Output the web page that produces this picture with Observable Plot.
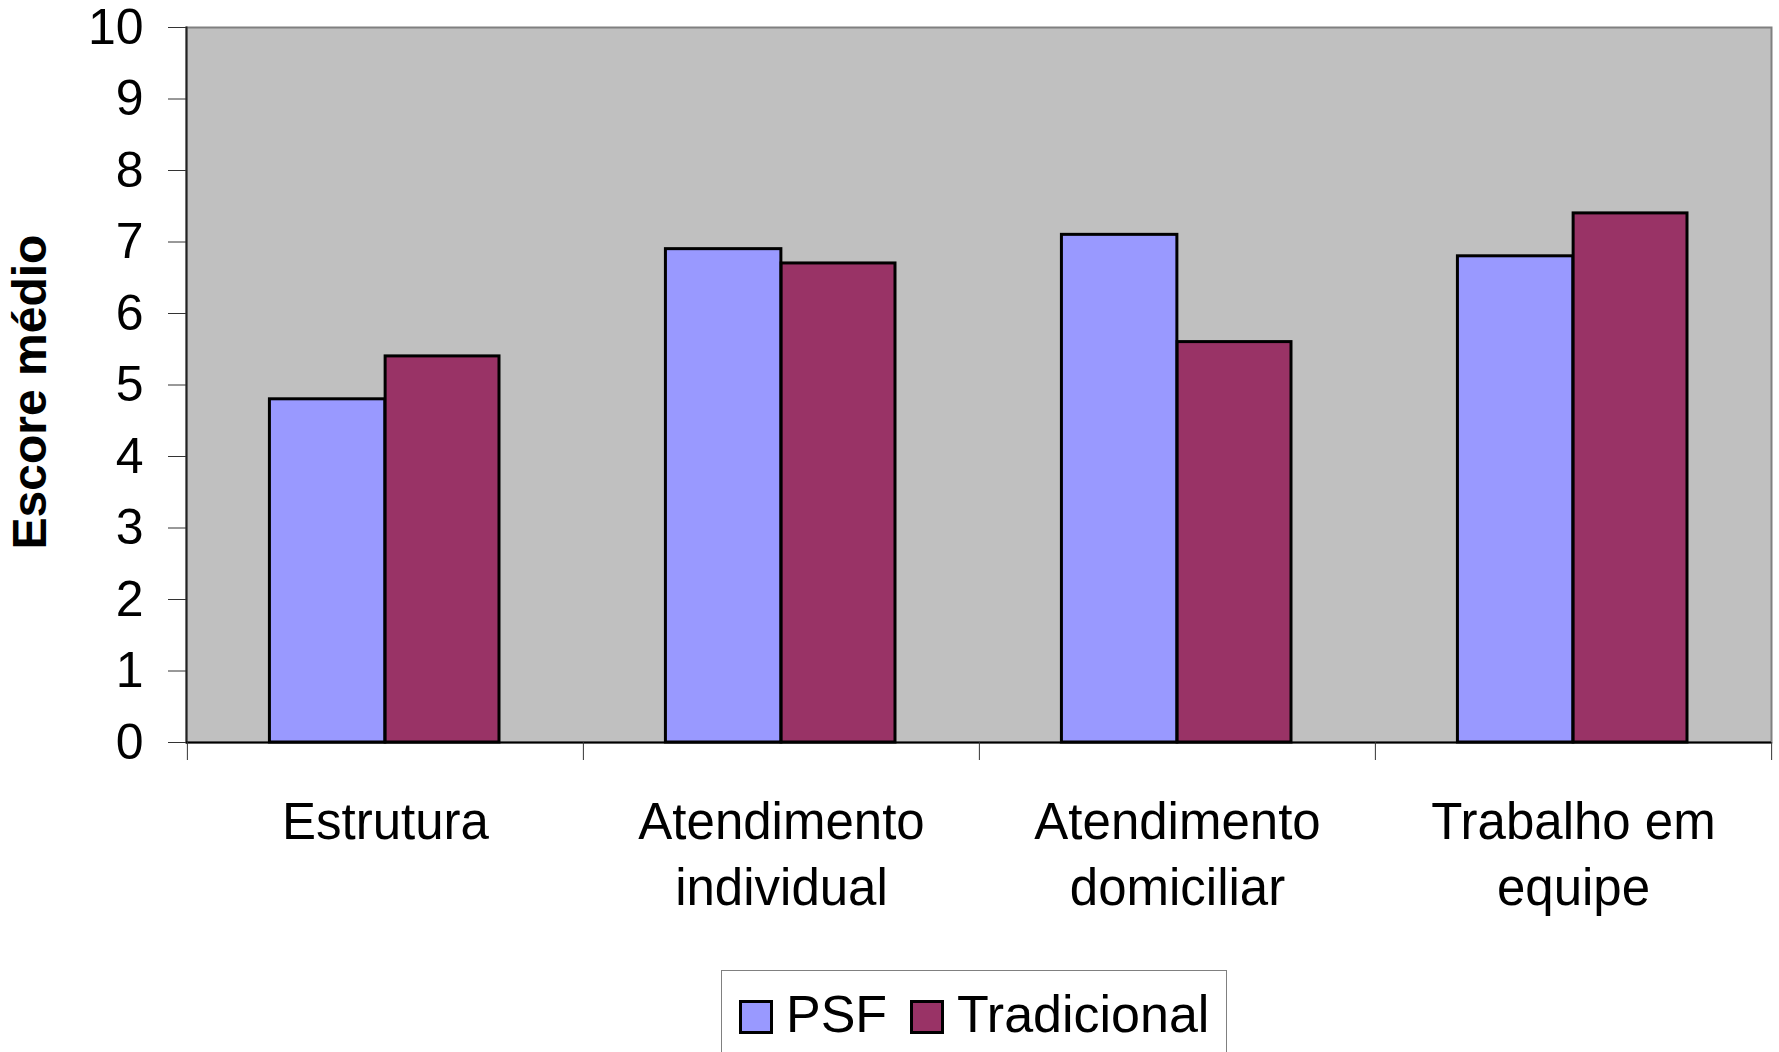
<!DOCTYPE html>
<html>
<head>
<meta charset="utf-8">
<script src="https://cdn.jsdelivr.net/npm/d3@7"></script>
<script src="https://cdn.jsdelivr.net/npm/@observablehq/plot@0.6"></script>
<style>
  html, body { margin: 0; padding: 0; background: #fff; overflow: hidden; }
  body { width: 1779px; height: 1052px; position: relative; font-family: "Liberation Sans", Arial, sans-serif; }
  #legend { position: absolute; left: 721px; top: 970px; width: 506px; height: 120px; border: 1.5px solid #808080; box-sizing: border-box; background: #fff; }
  .item { position: absolute; display: flex; align-items: center; height: 50px; font-size: 52px; color: #000; }
  .sw { width: 28px; height: 28px; border: 3px solid #000; margin-right: 13px; margin-top: 6px; }
</style>
</head>
<body>
<div id="chart"></div>
<div id="legend"></div>
<script>
const categories = ["Estrutura", "Atendimento\nindividual", "Atendimento\ndomiciliar", "Trabalho em\nequipe"];
const series = ["PSF", "Tradicional"];
const psfValues = [4.8, 6.9, 7.1, 6.8];
const tradValues = [5.4, 6.7, 5.6, 7.4];
const yTicks = [0, 1, 2, 3, 4, 5, 6, 7, 8, 9, 10];
const colors = ["#9999FF", "#993366"];

const rows = [];
categories.forEach((c, i) => {
  rows.push({category: c, series: series[0], value: psfValues[i]});
  rows.push({category: c, series: series[1], value: tradValues[i]});
});

const width = 1779, height = 950;
const marginLeft = 186, marginRight = 8, marginTop = 27, marginBottom = 208;
const step = (width - marginLeft - marginRight) / categories.length;
const font = "Liberation Sans, Arial, sans-serif";

const chart = Plot.plot({
  width, height, marginLeft, marginRight, marginTop, marginBottom,
  style: {fontFamily: font, background: "#fff"},
  x: {domain: categories, padding: 0, axis: null},
  y: {domain: [0, 10], axis: null},
  color: {domain: series, range: colors},
  marks: [
    Plot.frame({fill: "#C0C0C0", stroke: "#808080", strokeWidth: 2}),
    Plot.barY(rows.filter(d => d.series === series[0]), {
      x: "category", y: "value", fill: "series", stroke: "#000", strokeWidth: 3,
      insetLeft: step * 0.208, insetRight: step * 0.5
    }),
    Plot.barY(rows.filter(d => d.series === series[1]), {
      x: "category", y: "value", fill: "series", stroke: "#000", strokeWidth: 3,
      insetLeft: step * 0.5, insetRight: step * 0.212
    }),
    Plot.frame({anchor: "left", stroke: "#222", strokeWidth: 2}),
    Plot.ruleY([0], {stroke: "#000", strokeWidth: 2}),
    Plot.axisY(yTicks, {
      tickSize: 18, tickPadding: 25, fontSize: 50, stroke: "#333", fill: "#000",
      tickFormat: d3.format("d"),
      label: "Escore médio", labelAnchor: "center", labelOffset: 175, labelArrow: "none"
    }),
    Plot.axisX(categories, {tickSize: 18, tickFormat: () => "", dx: -step / 2, stroke: "#333", label: null}),
    Plot.axisX(categories.slice(-1), {tickSize: 18, tickFormat: () => "", dx: step / 2, stroke: "#333", label: null}),
    Plot.axisX(categories, {tickSize: 0, tickPadding: 49, fontSize: 51, lineHeight: 1.3, fill: "#000", label: null})
  ]
});
document.getElementById("chart").appendChild(chart);

chart.querySelectorAll("text").forEach(t => {
  if (t.textContent === "Escore médio") {
    t.style.fontWeight = "bold"; t.style.fontSize = "48px";
    t.setAttribute("dx", "-7");
  }
});

const legend = document.getElementById("legend");
const offsets = [17, 188];
series.forEach((s, i) => {
  const item = document.createElement("div");
  item.className = "item";
  item.style.left = offsets[i] + "px";
  item.style.top = "18px";
  const sw = document.createElement("div");
  sw.className = "sw";
  sw.style.background = colors[i];
  item.appendChild(sw);
  const label = document.createElement("span");
  label.textContent = s;
  item.appendChild(label);
  legend.appendChild(item);
});
</script>
</body>
</html>
